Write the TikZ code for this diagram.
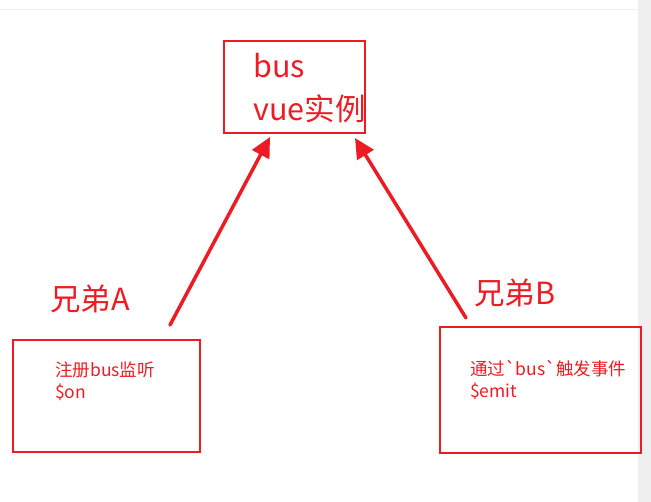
\documentclass[tikz,border=0pt]{standalone}
\usepackage{fontspec}
\setmainfont{Noto Sans CJK SC}[Ligatures=TeXOff]
\usetikzlibrary{arrows.meta}
\definecolor{pred}{HTML}{ED1C24}
\definecolor{barg}{HTML}{EFEFEF}
\begin{document}
\begin{tikzpicture}[x=1pt,y=-1pt,
  boxst/.style={draw=pred,line width=2pt},
  bigtxt/.style={text=pred,font=\fontsize{30.5}{42}\selectfont,inner sep=0pt,anchor=base west},
  smalltxt/.style={text=pred,font=\fontsize{17.5}{22}\selectfont,inner sep=0pt,anchor=base west},
  arr/.style={draw=pred,line width=3.5pt,line cap=round,-{Triangle[length=20pt,width=19pt]}}]
\useasboundingbox (0,0) rectangle (651,502);
\fill[white] (0,0) rectangle (651,502);
\fill[barg] (638,0) rectangle (651,502);
\draw[barg,line width=1pt] (0,9.5) -- (638,9.5);
% top box
\draw[boxst] (224,41) rectangle (365,133);
\node[bigtxt] (t1) at (253,78) {bus};
\node[bigtxt] (t2) at (253,121) {vue实例};
\coordinate (tipL) at (270,137);
\coordinate (tipR) at (355,138);
% bottom left
\draw[boxst] (13,340) rectangle (200,452);
\node[smalltxt] (l1) at (55,377) {注册bus监听};
\node[smalltxt] (l2) at (55,399) {\$on};
\node[bigtxt] (la) at (50,311) {兄弟A};
% bottom right
\draw[boxst] (440,327) rectangle (641,453);
\node[smalltxt] (r1) at (470,376) {通过`bus`触发事件};
\node[smalltxt] (r2) at (470,398) {\$emit};
\node[bigtxt] (lb) at (474,305) {兄弟B};
% arrows
\coordinate (sL) at (170,325);
\coordinate (sR) at (466,318);
\draw[arr] (sL) -- (tipL);
\draw[arr] (sR) -- (tipR);
\end{tikzpicture}
\end{document}
